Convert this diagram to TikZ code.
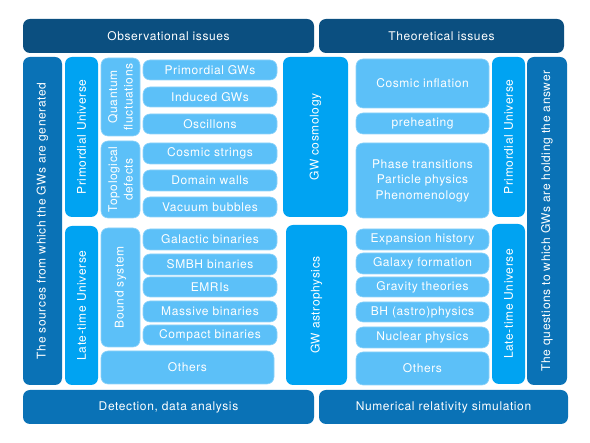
\documentclass[tikz,border=0pt]{standalone}
\usepackage{fontspec}
\setmainfont{TeX Gyre Heros}[LetterSpace=5]
\usepackage{tikz}
\usetikzlibrary{positioning}
\definecolor{navy}{HTML}{0B4F80}
\definecolor{midblue}{HTML}{0A72B6}
\definecolor{brightblue}{HTML}{00A3F2}
\definecolor{paleblue}{HTML}{5CC0F8}
\tikzset{
  panel/.style={rounded corners=7pt, text=white, inner sep=0pt, align=center,
    font=\fontsize{12}{15.5}\selectfont},
  topbar/.style={panel, fill=navy, minimum height=34pt},
  basebar/.style={panel, fill=midblue, minimum height=34pt},
  sidebar/.style={panel, fill=midblue, rotate=90},
  groupbar/.style={panel, fill=brightblue, rotate=90},
  subgroup/.style={panel, fill=paleblue, draw=paleblue!70!white, line width=0.6pt, rotate=90},
  leaf/.style={panel, fill=paleblue, draw=paleblue!70!white, line width=0.6pt},
  lleaf/.style={leaf, minimum width=134pt},
  rleaf/.style={leaf, minimum width=133pt}
}

\begin{document}
\begin{tikzpicture}[x=1pt, y=-1pt]
  \useasboundingbox (0,0) rectangle (590,443);
  % header and footer bars
  \node[topbar, minimum width=291pt] (obs) at (168.5,36) {Observational issues};
  \node[topbar, minimum width=245pt] (theo) at (441.5,36) {Theoretical issues};
  \node[basebar, minimum width=291pt] (detect) at (168.5,407) {Detection, data analysis};
  \node[basebar, minimum width=249pt] (numrel) at (443.5,407) {Numerical relativity simulation};

  % sources side
  \node[sidebar, minimum width=328pt, minimum height=39pt] (sources) at (42.5,221) {The sources from which the GWs are generated};
  \node[groupbar, minimum width=160pt, minimum height=33pt] (lprim) at (81.5,137) {Primordial Universe};
  \node[groupbar, minimum width=159pt, minimum height=33pt] (llate) at (81.5,305.5) {Late-time Universe};
  \node[subgroup, minimum width=78pt, minimum height=39pt] (quantum) at (120.5,97) {Quantum\\fluctuations};
  \node[subgroup, minimum width=77pt, minimum height=39pt] (topo) at (120.5,179.5) {Topological\\defects};
  \node[subgroup, minimum width=119pt, minimum height=39pt] (bound) at (120.5,287.5) {Bound system};
  \node[leaf, minimum width=173pt, minimum height=33pt] (lothers) at (187.5,367.5) {Others};

  \node[lleaf, minimum height=20pt] (pgw) at (210,70) {Primordial GWs};
  \node[lleaf, minimum height=20pt] (igw) at (210,97) {Induced GWs};
  \node[lleaf, minimum height=20pt] (osc) at (210,124) {Oscillons};
  \node[lleaf, minimum height=21pt] (strings) at (210,153.5) {Cosmic strings};
  \node[lleaf, minimum height=21pt] (walls) at (210,180.5) {Domain walls};
  \node[lleaf, minimum height=20pt] (bubbles) at (210,207) {Vacuum bubbles};
  \node[lleaf, minimum height=21pt] (galactic) at (210,239.5) {Galactic binaries};
  \node[lleaf, minimum height=21pt] (smbh) at (210,264.5) {SMBH binaries};
  \node[lleaf, minimum height=20pt] (emri) at (210,287) {EMRIs};
  \node[lleaf, minimum height=21pt] (massive) at (210,311.5) {Massive binaries};
  \node[lleaf, minimum height=20pt] (compact) at (210,335) {Compact binaries};

  % middle
  \node[groupbar, minimum width=160pt, minimum height=65pt] (gwcos) at (315.5,137) {GW cosmology};
  \node[groupbar, minimum width=160pt, minimum height=61pt] (gwastro) at (316.5,305) {GW astrophysics};

  % questions side
  \node[rleaf, minimum height=49pt] (inflation) at (422.5,83.5) {Cosmic inflation};
  \node[rleaf, minimum height=21pt] (preheat) at (422.5,123.5) {preheating};
  \node[rleaf, minimum height=75pt] (phase) at (422.5,180.5) {Phase transitions\\Particle physics\\Phenomenology};
  \node[rleaf, minimum height=21pt] (expansion) at (422.5,239.5) {Expansion history};
  \node[rleaf, minimum height=21pt] (galaxy) at (422.5,263.5) {Galaxy formation};
  \node[rleaf, minimum height=20pt] (gravity) at (422.5,287) {Gravity theories};
  \node[rleaf, minimum height=20pt] (bh) at (422.5,312) {BH (astro)physics};
  \node[rleaf, minimum height=21pt] (nuclear) at (422.5,337.5) {Nuclear physics};
  \node[rleaf, minimum height=33pt] (rothers) at (422.5,368.5) {Others};

  \node[groupbar, minimum width=160pt, minimum height=33pt] (rprim) at (508.5,137) {Primordial Universe};
  \node[groupbar, minimum width=160pt, minimum height=33pt] (rlate) at (508.5,304) {Late-time Universe};
  \node[sidebar, minimum width=328pt, minimum height=40pt] (questions) at (547,221) {The questions to which GWs are holding the answer};
\end{tikzpicture}
\end{document}
